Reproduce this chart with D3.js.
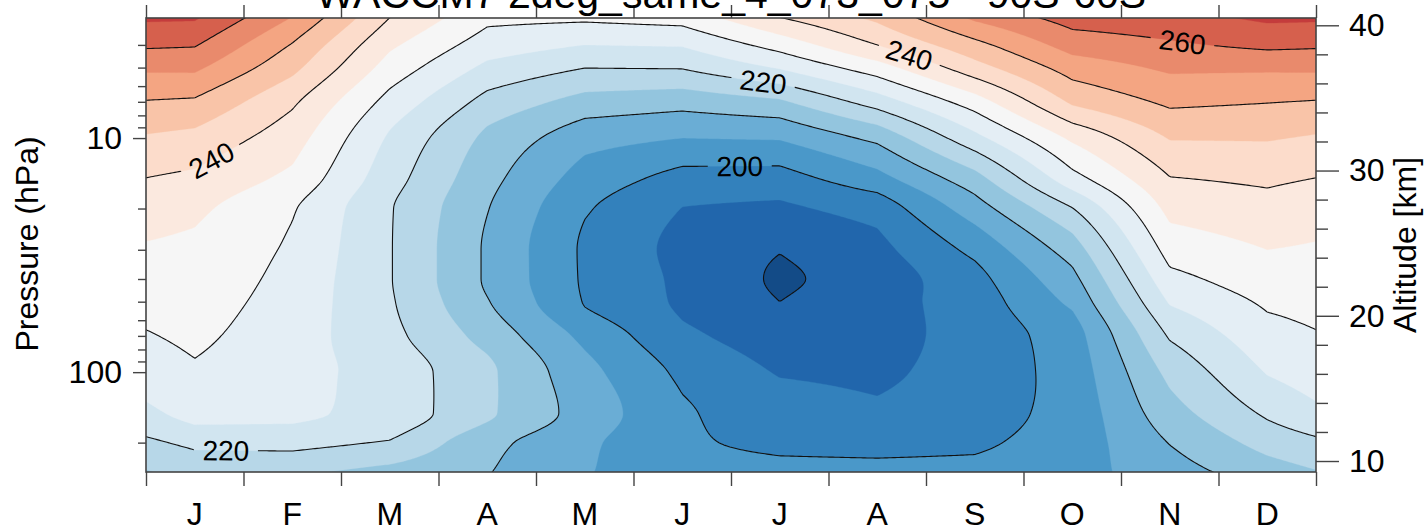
<!DOCTYPE html>
<html><head><meta charset="utf-8">
<script src="https://cdn.jsdelivr.net/npm/d3@7"></script>
<style>
html,body{margin:0;padding:0;background:#fff;}
svg{display:block;font-family:"Liberation Sans",Arial,Helvetica,sans-serif;}
</style></head><body>
<svg id="chart" width="1424" height="531"></svg>
<script>
// ---------------- data ----------------
const titleText = "WACCM7 2deg_same_4_073_075 - 90S-60S";
const months = ["J","F","M","A","M","J","J","A","S","O","N","D"];
const pressureLevels = [3,4,5,7,10,15,20,30,40,50,70,100,150,200,270]; // hPa
// monthly-mean temperature (K) at each pressure level
const tJan = [266,260.4,256,249.3,243.6,238.9,236.1,234,233,232.2,231,229.3,226.8,221.2,216.5];
const tFeb = [255.2,249.7,246.4,240.9,237.3,233.7,230.5,229.3,228.6,228.1,227.3,226.6,226,221.5,215.8];
const tMar = [240.3,235.9,232.9,228.3,224.3,222,220.4,220.3,220.3,220.6,221.5,223.2,223.4,219.6,213];
const tApr = [231.5,227.5,223.8,218.3,213.8,211.5,210.2,209.3,209.3,210.3,213.2,216,215.8,211.5,210.2];
const tMay = [231.4,225,220.1,213.1,206.9,202.8,200.5,199.2,199.3,199.7,203.7,206.5,207.9,206,205.3];
const tJun = [232.5,225.4,220.3,211.9,205,198.1,194.9,193.5,194,194.2,196,198.9,200.5,200.6,202];
const tJul = [240.5,232,225.4,214.2,205.4,197.8,194,190.2,189.2,190,192.3,194.6,197.5,199,201.5];
const tAug = [246.5,240,232.8,222.3,211.3,203,197,193.5,192.2,193,193.2,194,196,198.5,201.5];
const tSep = [256.5,248.5,243,232.6,223.4,212.9,207.6,201.3,198.3,197.3,196.8,197,198,199.2,201.5];
const tOct = [262.5,257.1,252.3,245.8,236,227.9,219.8,212.3,208.5,206,202.5,201.8,201.5,202,203];
const tNov = [263.5,259.3,255.9,251,245.3,239.7,236.5,232.1,228.5,225.5,220.6,216.4,213,210.2,207.8];
const tDec = [266.3,261.1,255.9,250.2,245.4,240.8,238.3,235,232.9,230.8,228.3,225.3,220.8,216.8,212.5];
const monthlyT = [tJan,tFeb,tMar,tApr,tMay,tJun,tJul,tAug,tSep,tOct,tNov,tDec];

const fillLevels = [190,195,200,205,210,215,220,225,230,235,240,245,250,255,260,265];
const fillColors = ["#134b87","#2166ac","#3381bc","#4a98c9","#6aadd5","#93c5de","#b7d7e8","#d1e5f0",
                    "#e4eef5","#f6f6f6","#fbe9df","#fcdccb","#f9c4a8","#f4a582","#e98a6c","#d6604d","#c43c3c"];
const lineLevels = [190,200,210,220,230,240,250,260,270];
const pressureMajorTicks = [10,100];
const pressureMinorTicks = [4,5,6,7,8,9,20,30,40,50,60,70,80,90,200];
const altitudeMajorTicks = [10,20,30,40];
const altitudeMinorTicks = [12,14,16,18,22,24,26,28,32,34,36,38];
// contour labels: level and approximate anchor (month, hPa)
const labelAnchors = [
  {level:240, month:0.67, p:11.6},
  {level:220, month:0.82, p:208},
  {level:220, month:6.33, p:5.8},
  {level:200, month:6.09, p:12.4},
  {level:240, month:7.83, p:4.3},
  {level:260, month:10.63, p:3.95}
];

// ---------------- layout ----------------
const plot = {left:146, right:1316, top:18, bottom:472};
const pTop = 3.07, pBot = 267;
const scaleHeight = 7, p0 = 1000;
const altOf = p => scaleHeight*Math.log(p0/p);

const svg = d3.select("#chart");
const x = d3.scaleLinear().domain([0,12]).range([plot.left, plot.right]);
const y = d3.scaleLog().domain([pTop, pBot]).range([plot.top, plot.bottom]);
const yAlt = d3.scaleLinear().domain([altOf(pTop), altOf(pBot)]).range([plot.top, plot.bottom]);

// monotone cubic interpolation in ln(p)
function monotone(xs, ys){
  const n = xs.length, d = [], m = new Array(n);
  for (let i=0;i<n-1;i++) d[i] = (ys[i+1]-ys[i])/(xs[i+1]-xs[i]);
  m[0]=d[0]; m[n-1]=d[n-2];
  for (let i=1;i<n-1;i++){
    if (d[i-1]*d[i] <= 0) m[i]=0;
    else { const h0=xs[i]-xs[i-1], h1=xs[i+1]-xs[i], w1=2*h1+h0, w2=h1+2*h0;
           m[i]=(w1+w2)/(w1/d[i-1]+w2/d[i]); }
  }
  return v => {
    if (v<=xs[0]) return ys[0]+d[0]*(v-xs[0]);
    if (v>=xs[n-1]) return ys[n-1]+d[n-2]*(v-xs[n-1]);
    let i = d3.bisectRight(xs, v)-1;
    const h = xs[i+1]-xs[i], t=(v-xs[i])/h, t2=t*t, t3=t2*t;
    return (2*t3-3*t2+1)*ys[i] + (t3-2*t2+t)*h*m[i] + (-2*t3+3*t2)*ys[i+1] + (t3-t2)*h*m[i+1];
  };
}
const lnP = pressureLevels.map(p=>Math.log(p));
const colInterp = monthlyT.map(col => monotone(lnP, col));

function rowValues(p){ const l=Math.log(p); return colInterp.map(f=>f(l)); }
function horiz(row, mx){
  const c = mx-0.5, i0=Math.floor(c), f=c-i0;
  const a = row[((i0%12)+12)%12], b = row[(((i0+1)%12)+12)%12];
  return a+(b-a)*f;
}
function fieldAt(px, py){ return horiz(rowValues(y.invert(py)), x.invert(px)); }

// resample on a fine pixel grid (1 cell padding outside the plot)
const cs = 2;
const gx0 = plot.left-cs, gy0 = plot.top-cs;
const nx = (plot.right-plot.left)/cs + 2, ny = (plot.bottom-plot.top)/cs + 2;
const values = new Float64Array(nx*ny);
for (let j=0;j<ny;j++){
  const row = rowValues(y.invert(gy0+(j+0.5)*cs));
  for (let i=0;i<nx;i++) values[j*nx+i] = horiz(row, x.invert(gx0+(i+0.5)*cs));
}
const path = d3.geoPath(d3.geoTransform({point(px,py){ this.stream.point(gx0+px*cs, gy0+py*cs); }}));

const defs = svg.append("defs");
defs.append("clipPath").attr("id","plotclip").append("rect")
  .attr("x",plot.left).attr("y",plot.top).attr("width",plot.right-plot.left).attr("height",plot.bottom-plot.top);

// filled contours
const gFill = svg.append("g").attr("clip-path","url(#plotclip)");
gFill.append("rect").attr("x",plot.left).attr("y",plot.top)
  .attr("width",plot.right-plot.left).attr("height",plot.bottom-plot.top).attr("fill",fillColors[0]);
const fills = d3.contours().size([nx,ny]).thresholds(fillLevels)(values);
gFill.selectAll("path.fill").data(fills).join("path").attr("class","fill")
  .attr("d",path).attr("fill",(d,i)=>fillColors[i+1]).attr("stroke",(d,i)=>fillColors[i+1]).attr("stroke-width",0.3);

// contour labels positions
function crossingNear(level, px, pyGuess){
  let best=null, prevV=fieldAt(px, plot.top), prevY=plot.top;
  for (let py=plot.top+0.5; py<=plot.bottom; py+=0.5){
    const v=fieldAt(px,py);
    if ((v-level)*(prevV-level)<=0 && v!==prevV){
      const yc = prevY + (level-prevV)/(v-prevV)*(py-prevY);
      if (best===null || Math.abs(yc-pyGuess)<Math.abs(best-pyGuess)) best=yc;
    }
    prevV=v; prevY=py;
  }
  return best===null?pyGuess:best;
}
const labels = labelAnchors.map(a=>{
  const px = x(a.month), py = crossingNear(a.level, px, y(a.p));
  const e=2, gx=(fieldAt(px+e,py)-fieldAt(px-e,py))/(2*e), gy=(fieldAt(px,py+e)-fieldAt(px,py-e))/(2*e);
  let dx=gy, dy=-gx; if (dx<0){dx=-dx;dy=-dy;}
  return {text:String(a.level), x:px, y:py, angle:Math.atan2(dy,dx)*180/Math.PI};
});

// mask to break lines under labels
const mask = defs.append("mask").attr("id","labelmask").attr("maskUnits","userSpaceOnUse")
  .attr("x",0).attr("y",0).attr("width",1424).attr("height",531);
mask.append("rect").attr("x",0).attr("y",0).attr("width",1424).attr("height",531).attr("fill","#fff");
mask.selectAll("rect.hole").data(labels).join("rect").attr("class","hole")
  .attr("x",-32).attr("y",-14).attr("width",64).attr("height",28).attr("fill","#000")
  .attr("transform",d=>`translate(${d.x},${d.y}) rotate(${d.angle})`);

const gLines = svg.append("g").attr("clip-path","url(#plotclip)").append("g").attr("mask","url(#labelmask)");
const lines = d3.contours().size([nx,ny]).thresholds(lineLevels)(values);
gLines.selectAll("path").data(lines).join("path").attr("d",path)
  .attr("fill","none").attr("stroke","#111").attr("stroke-width",1.1).attr("stroke-linejoin","round");

svg.append("g").selectAll("text").data(labels).join("text")
  .attr("transform",d=>`translate(${d.x},${d.y}) rotate(${d.angle})`)
  .attr("text-anchor","middle").attr("dy","0.36em").attr("font-size",28).attr("fill","#000")
  .text(d=>d.text);

// ---------------- axes ----------------
const axisColor = "#444";
function styleAxis(g, fs){
  g.select(".domain").remove();
  g.selectAll("line").attr("stroke",axisColor).attr("stroke-width",1.4);
  g.selectAll("text").attr("font-size",fs).attr("fill","#000").attr("font-family","Liberation Sans, Arial, sans-serif");
  g.attr("font-size",null).attr("font-family",null);
}
const monthEdges = d3.range(0,13);
svg.append("g").attr("transform",`translate(0,${plot.bottom})`)
  .call(d3.axisBottom(x).tickValues(monthEdges).tickSize(14).tickFormat("")).call(g=>styleAxis(g,32));
svg.append("g").attr("transform",`translate(0,${plot.top})`)
  .call(d3.axisTop(x).tickValues(monthEdges).tickSize(13).tickFormat("")).call(g=>styleAxis(g,32));
svg.append("g").selectAll("text").data(months).join("text")
  .attr("x",(d,i)=>x(i+0.5)).attr("y",525).attr("text-anchor","middle").attr("font-size",32).text(d=>d);

svg.append("g").attr("transform",`translate(${plot.left},0)`)
  .call(d3.axisLeft(y).tickValues(pressureMinorTicks).tickSize(8).tickFormat("")).call(g=>styleAxis(g,32));
svg.append("g").attr("transform",`translate(${plot.left},0)`)
  .call(d3.axisLeft(y).tickValues(pressureMajorTicks).tickSize(13).tickPadding(11).tickFormat(d3.format("d")))
  .call(g=>styleAxis(g,32));
svg.append("g").attr("transform",`translate(${plot.right},0)`)
  .call(d3.axisRight(yAlt).tickValues(altitudeMinorTicks).tickSize(12).tickFormat("")).call(g=>styleAxis(g,32));
svg.append("g").attr("transform",`translate(${plot.right},0)`)
  .call(d3.axisRight(yAlt).tickValues(altitudeMajorTicks).tickSize(23).tickPadding(10).tickFormat(d3.format("d")))
  .call(g=>styleAxis(g,32));

svg.append("rect").attr("x",plot.left).attr("y",plot.top).attr("width",plot.right-plot.left)
  .attr("height",plot.bottom-plot.top).attr("fill","none").attr("stroke",axisColor).attr("stroke-width",1.6);

svg.append("text").attr("transform","translate(38,244) rotate(-90)").attr("text-anchor","middle")
  .attr("font-size",32).text("Pressure (hPa)");
svg.append("text").attr("transform","translate(1416,245) rotate(-90)").attr("text-anchor","middle")
  .attr("font-size",32).text("Altitude [km]");
svg.append("text").attr("x",(plot.left+plot.right)/2).attr("y",8).attr("text-anchor","middle")
  .attr("font-size",41).text(titleText);
</script>
</body></html>
